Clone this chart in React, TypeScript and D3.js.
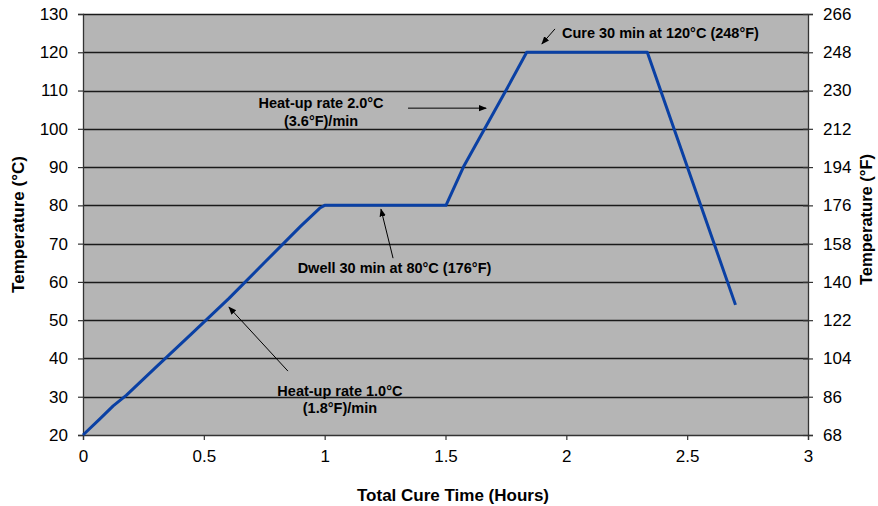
import React, { useEffect, useRef } from 'react';
import * as d3 from 'd3';

// cure profile: time (hours) vs temperature (°C)
const hours = [0, 0.07, 0.125, 0.18, 0.3, 0.45, 0.604, 0.75, 0.9, 0.98, 1.0, 1.502, 1.574, 1.75, 1.836, 2.335, 2.7];
const tempC = [20, 24.2, 27.6, 30.4, 37.6, 46.5, 55.7, 65, 74.5, 79.3, 80, 80, 90, 110, 120, 120, 54];

const xTicks = [0, 0.5, 1, 1.5, 2, 2.5, 3];
const cTicks = [20, 30, 40, 50, 60, 70, 80, 90, 100, 110, 120, 130];
const fTicks = ['68', '86', '104', '122', '140', '158', '176', '194', '212', '230', '248', '266'];

const notes = [
  { lines: ['Cure 30 min at 120°C (248°F)'], tx: 1.982, ty: 123.7, from: [1.953, 126.1], to: [1.899, 122.2], anchor: 'start' },
  { lines: ['Heat-up rate 2.0°C', '(3.6°F)/min'], tx: 0.985, ty: 105.4, from: [1.345, 105.4], to: [1.668, 105.4], anchor: 'middle' },
  { lines: ['Dwell 30 min at 80°C (176°F)'], tx: 1.289, ty: 62.3, from: [1.283, 66.2], to: [1.233, 79.0], anchor: 'middle' },
  { lines: ['Heat-up rate 1.0°C', '(1.8°F)/min'], tx: 1.063, ty: 30.2, from: [0.848, 36.7], to: [0.604, 53.4], anchor: 'middle' },
];

const W = 878, H = 506;
const m = { left: 83, right: 70, top: 14, bottom: 71 };

export default function App() {
  const ref = useRef<SVGSVGElement>(null);

  useEffect(() => {
    const svg = d3.select(ref.current);
    svg.selectAll('*').remove();
    const iw = W - m.left - m.right;
    const ih = H - m.top - m.bottom;

    const x = d3.scaleLinear().domain([0, 3]).range([0, iw]);
    const y = d3.scaleLinear().domain([20, 130]).range([ih, 0]);

    const defs = svg.append('defs');
    defs.append('marker')
      .attr('id', 'arr')
      .attr('viewBox', '0 0 10 10')
      .attr('refX', 9).attr('refY', 5)
      .attr('markerWidth', 8).attr('markerHeight', 8)
      .attr('markerUnits', 'userSpaceOnUse')
      .attr('orient', 'auto')
      .append('path').attr('d', 'M0,1 L10,5 L0,9 Z').attr('fill', '#000');

    const g = svg.append('g').attr('transform', `translate(${m.left},${m.top})`);

    g.append('rect').attr('width', iw).attr('height', ih).attr('fill', '#b5b5b5');

    // grid lines
    g.selectAll('line.grid').data(cTicks.slice(1)).enter()
      .append('line').attr('class', 'grid')
      .attr('x1', 0).attr('x2', iw)
      .attr('y1', d => Math.round(y(d)) + 0.5).attr('y2', d => Math.round(y(d)) + 0.5)
      .attr('stroke', '#1a1a1a').attr('stroke-width', 1.3);

    const font = 'Arial, "Liberation Sans", sans-serif';

    // left axis
    const yAxis = g.append('g').call(d3.axisLeft(y).tickValues(cTicks).tickSize(5).tickPadding(10));
    // right axis
    const yRight = g.append('g').attr('transform', `translate(${iw},0)`)
      .call(d3.axisRight(y).tickValues(cTicks).tickSize(5).tickPadding(10).tickFormat((d, i) => fTicks[i]));
    yRight.selectAll('.tick line').attr('x1', -5);
    // x axis
    const xAxis = g.append('g').attr('transform', `translate(0,${ih})`)
      .call(d3.axisBottom(x).tickValues(xTicks).tickSize(5).tickPadding(10).tickFormat(d3.format('')));

    [yAxis, yRight, xAxis].forEach(a => {
      a.select('.domain').attr('stroke', '#333').attr('stroke-width', 1.3);
      a.selectAll('.tick line').attr('stroke', '#333').attr('stroke-width', 1.2);
      a.selectAll('text').attr('font-family', font).attr('font-size', 17).attr('fill', '#000');
    });

    // profile line
    const pts = hours.map((h, i) => [h, tempC[i]] as [number, number]);
    g.append('path')
      .datum(pts)
      .attr('fill', 'none')
      .attr('stroke', '#0a40a4')
      .attr('stroke-width', 3)
      .attr('stroke-linejoin', 'round')
      .attr('d', d3.line<[number, number]>().x(d => x(d[0])).y(d => y(d[1])));

    // annotations
    notes.forEach(n => {
      g.append('line')
        .attr('x1', x(n.from[0])).attr('y1', y(n.from[1]))
        .attr('x2', x(n.to[0])).attr('y2', y(n.to[1]))
        .attr('stroke', '#000').attr('stroke-width', 1)
        .attr('marker-end', 'url(#arr)');
      const t = g.append('text')
        .attr('font-family', font).attr('font-size', 14.5).attr('font-weight', 'bold')
        .attr('text-anchor', n.anchor).attr('fill', '#000');
      n.lines.forEach((l, i) => {
        t.append('tspan').attr('x', x(n.tx)).attr('y', y(n.ty) + i * 17.5).text(l);
      });
    });

    // axis titles
    svg.append('text')
      .attr('transform', `translate(24,${m.top + ih / 2}) rotate(-90)`)
      .attr('text-anchor', 'middle')
      .attr('font-family', font).attr('font-size', 17).attr('font-weight', 'bold')
      .text('Temperature (°C)');
    svg.append('text')
      .attr('transform', `translate(872,${m.top + ih / 2 - 5}) rotate(-90)`)
      .attr('text-anchor', 'middle')
      .attr('font-family', font).attr('font-size', 16.5).attr('font-weight', 'bold')
      .text('Temperature (°F)');
    svg.append('text')
      .attr('x', 453).attr('y', 501)
      .attr('text-anchor', 'middle')
      .attr('font-family', font).attr('font-size', 17).attr('font-weight', 'bold')
      .text('Total Cure Time (Hours)');
  }, []);

  return (
    <svg ref={ref} width={W} height={H} style={{ position: 'absolute', left: 0, top: 0 }} />
  );
}
